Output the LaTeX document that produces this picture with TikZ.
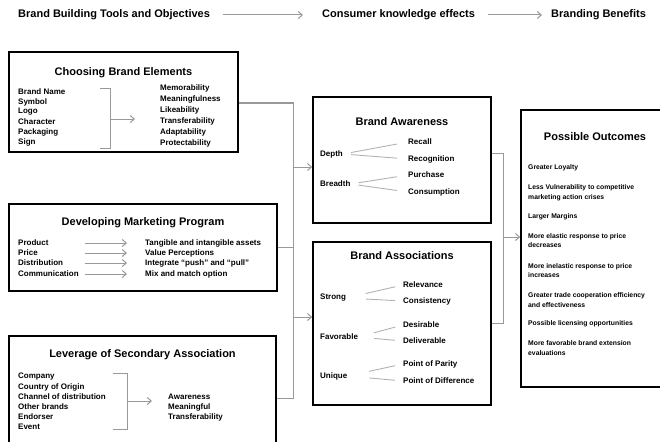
\documentclass[tikz,border=0pt]{standalone}
\usepackage{fontspec}
\setmainfont{Liberation Sans}
\usetikzlibrary{arrows.meta}

\tikzset{
  panel/.style={draw=black, line width=1.6pt, inner sep=0pt},
  ttl/.style={font=\fontsize{11}{12}\selectfont\bfseries, inner sep=1pt},
  itm/.style={font=\fontsize{8}{9}\selectfont\bfseries, anchor=west, inner sep=0pt},
  sml/.style={font=\fontsize{6.8}{9.6}\selectfont\bfseries, anchor=west, align=left, inner sep=0pt},
  link/.style={draw=black!40, line width=1pt},
  arr/.style={link, -{Straight Barb[length=4pt,width=7pt]}},
  fan/.style={draw=black!30, line width=0.9pt}
}

\begin{document}
\begin{tikzpicture}[x=1pt, y=-1pt]
  \useasboundingbox (0,0) rectangle (660,441);
  \clip (0,0) rectangle (660,441);

  % header row
  \node[ttl, anchor=west] (hd1) at (17,15) {Brand Building Tools and Objectives};
  \node[ttl, anchor=west] (hd2) at (321,15) {Consumer knowledge effects};
  \node[ttl, anchor=west] (hd3) at (550,15) {Branding Benefits};
  \draw[arr, shorten <=12pt, shorten >=18pt] (hd1) -- (hd2);
  \draw[arr, shorten <=12pt, shorten >=8pt] (hd2) -- (hd3);

  % boxes
  \node[panel, minimum width=229pt, minimum height=100pt] (elem) at (123.5,102) {};
  \node[panel, minimum width=268pt, minimum height=87pt] (prog) at (143,247.5) {};
  \node[panel, minimum width=267pt, minimum height=112pt] (lev) at (142.5,392) {};
  \node[panel, minimum width=178pt, minimum height=126pt] (aware) at (402,160) {};
  \node[panel, minimum width=178pt, minimum height=163pt] (assoc) at (402,323.5) {};
  \node[panel, minimum width=147pt, minimum height=277pt] (outc) at (594.5,248.5) {};

  % choosing brand elements
  \node[ttl] (elemt) at (123.5,73) {Choosing Brand Elements};
  \foreach \y/\t [count=\i] in {92/Brand Name, 102/Symbol, 112/Logo, 122/Character, 132/Packaging, 142/Sign}
    \node[itm] (el\i) at (18,\y) {\t};
  \foreach \y/\t [count=\i] in {88/Memorability, 99/Meaningfulness, 110/Likeability, 121/Transferability, 132/Adaptability, 143/Protectability}
    \node[itm] (er\i) at (160,\y) {\t};
  \draw[link] (100,89) -- (110,89) -- (110,148) -- (100,148);
  \draw[arr] (110,119) -- (135,119);

  % developing marketing program
  \node[ttl] (progt) at (143,223) {Developing Marketing Program};
  \coordinate (ax) at (85,0);
  \foreach \y/\a/\b [count=\i] in {243/Product/Tangible and intangible assets, 253/Price/Value Perceptions,
      263/Distribution/Integrate “push” and “pull”, 274/Communication/Mix and match option} {
    \node[itm] (pl\i) at (18,\y) {\a};
    \node[itm] (pr\i) at (145,\y) {\b};
    \draw[arr, shorten >=18pt] (pr\i.west -| ax) -- (pr\i.west);
  }

  % leverage of secondary association
  \node[ttl] (levt) at (142.5,355) {Leverage of Secondary Association};
  \foreach \y/\t [count=\i] in {377/Company, 387/Country of Origin, 397/Channel of distribution, 407/Other brands, 417/Endorser, 427/Event}
    \node[itm] (ll\i) at (18,\y) {\t};
  \foreach \y/\t [count=\i] in {397/Awareness, 407/Meaningful, 417/Transferability}
    \node[itm] (lr\i) at (168,\y) {\t};
  \draw[link] (113,373) -- (127,373) -- (127,429) -- (113,429);
  \draw[arr] (127,401) -- (152,401);

  % brand awareness
  \node[ttl] (awaret) at (402,122) {Brand Awareness};
  \node[itm] (dep) at (320,154) {Depth};
  \node[itm] (bre) at (320,184) {Breadth};
  \foreach \y/\t [count=\i] in {142/Recall, 159/Recognition, 175/Purchase, 192/Consumption}
    \node[itm] (aw\i) at (408,\y) {\t};
  \draw[fan, shorten <=8pt, shorten >=11pt] (dep.east) -- (aw1.west);
  \draw[fan, shorten <=8pt, shorten >=11pt] (dep.east) -- (aw2.west);
  \draw[fan, shorten <=8pt, shorten >=11pt] (bre.east) -- (aw3.west);
  \draw[fan, shorten <=8pt, shorten >=11pt] (bre.east) -- (aw4.west);

  % brand associations
  \node[ttl] (assoct) at (402,256) {Brand Associations};
  \node[itm] (str) at (320,298) {Strong};
  \node[itm] (fav) at (320,337) {Favorable};
  \node[itm] (uni) at (320,376) {Unique};
  \foreach \y/\t [count=\i] in {285/Relevance, 301/Consistency, 325/Desirable, 341/Deliverable, 364/Point of Parity, 381/Point of Difference}
    \node[itm] (as\i) at (403,\y) {\t};
  \draw[fan, shorten <=20pt, shorten >=8pt] (str.east) -- (as1.west);
  \draw[fan, shorten <=20pt, shorten >=8pt] (str.east) -- (as2.west);
  \draw[fan, shorten <=16pt, shorten >=8pt] (fav.east) -- (as3.west);
  \draw[fan, shorten <=16pt, shorten >=8pt] (fav.east) -- (as4.west);
  \draw[fan, shorten <=22pt, shorten >=8pt] (uni.east) -- (as5.west);
  \draw[fan, shorten <=22pt, shorten >=8pt] (uni.east) -- (as6.west);

  % possible outcomes
  \node[ttl] (outct) at (595,137) {Possible Outcomes};
  \foreach \y/\t [count=\i] in {168/Greater Loyalty,
      192.5/Less Vulnerability to competitive\\marketing action crises,
      217/Larger Margins,
      240.5/More elastic response to price\\decreases,
      270.5/More inelastic response to price\\increases,
      300/Greater trade cooperation efficiency\\and effectiveness,
      324/Possible licensing opportunities,
      348/More favorable brand extension\\evaluations}
    \node[sml] (oc\i) at (528,\y) {\t};

  % connectors
  \coordinate (tA) at (293,103);
  \coordinate (tB) at (293,398);
  \draw[link] (elem.east |- tA) -- (tA) -- (tB) -- (lev.east |- tB);
  \draw[link] (prog.east) -- (prog.east -| tA);
  \draw[arr] (tA |- 0,167) -- (aware.west |- 0,167);
  \draw[arr] (tA |- 0,317) -- (assoc.west |- 0,317);

  \coordinate (rA) at (503,153);
  \coordinate (rB) at (503,323);
  \draw[link] (aware.east |- rA) -- (rA) -- (rB) -- (assoc.east |- rB);
  \draw[arr] (rA |- 0,237) -- (outc.west |- 0,237);
\end{tikzpicture}
\end{document}
